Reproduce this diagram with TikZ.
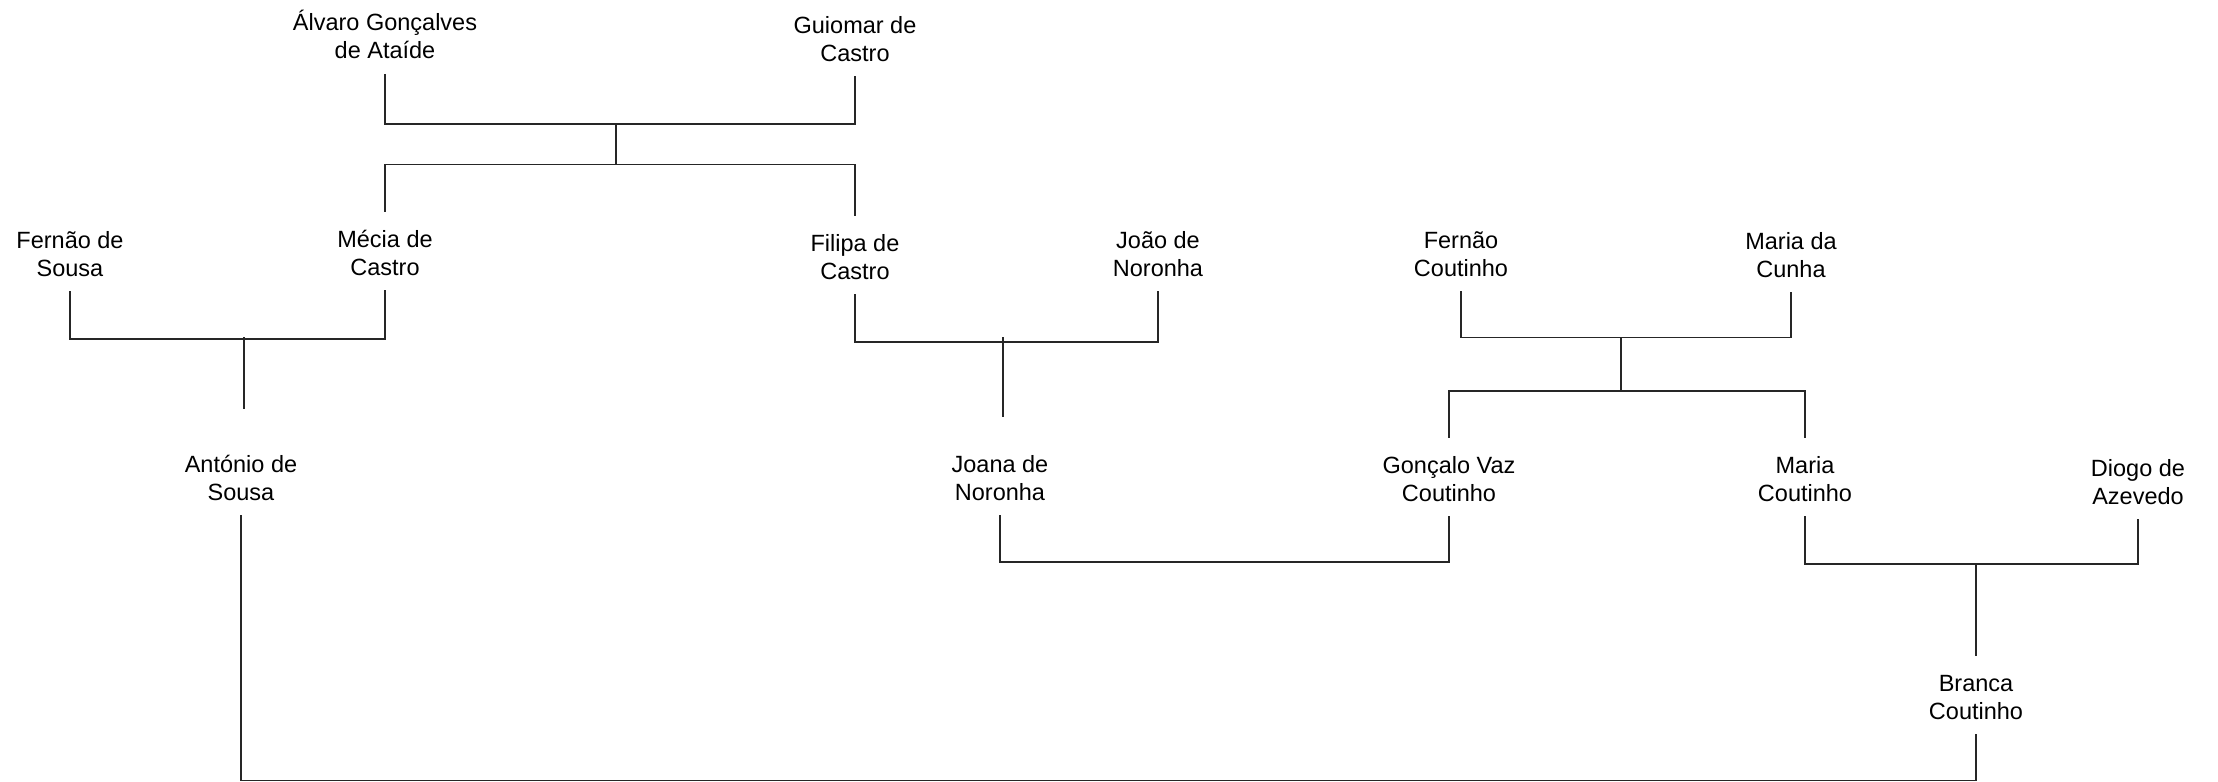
\documentclass[tikz,border=0pt]{standalone}
\usepackage{fontspec}
\setmainfont{Liberation Sans}
\usepackage{tikz}
\usetikzlibrary{positioning,calc}

\newcommand{\pname}[2]{\strut #1\\\strut #2}

\begin{document}
\begin{tikzpicture}[
    x=0.5pt, y=-0.5pt,
    person/.style={align=center, inner sep=3pt, font=\fontsize{11.75}{14}\selectfont},
    link/.style={line width=0.75pt, draw=black!85},
    kid/.style={link, shorten >=5pt}
]
\useasboundingbox (0,0) rectangle (2218,782);

% ============ Row 1 ============
\node[person] (alvaro) at (385, 39) {\pname{Álvaro Gonçalves}{de Ataíde}};
\node[person] (guiomar) at (855, 42) {\pname{Guiomar de}{Castro}};

% ============ Row 2 ============
\node[person] (fernaoS) at (70, 257) {\pname{Fernão de}{Sousa}};
\node[person] (mecia) at (385, 256) {\pname{Mécia de}{Castro}};
\node[person] (filipa) at (855, 260) {\pname{Filipa de}{Castro}};
\node[person] (joao) at (1158, 257) {\pname{João de}{Noronha}};
\node[person] (fernaoC) at (1461, 257) {\pname{Fernão}{Coutinho}};
\node[person] (mariaCu) at (1791, 258) {\pname{Maria da}{Cunha}};

% ============ Row 3 ============
\node[person] (antonio) at (241, 481) {\pname{António de}{Sousa}};
\node[person] (joana) at (1000, 481) {\pname{Joana de}{Noronha}};
\node[person] (goncalo) at (1449, 482) {\pname{Gonçalo Vaz}{Coutinho}};
\node[person] (mariaCo) at (1805, 482) {\pname{Maria}{Coutinho}};
\node[person] (diogo) at (2138, 485) {\pname{Diogo de}{Azevedo}};

% ============ Row 4 ============
\node[person] (branca) at (1976, 700) {\pname{Branca}{Coutinho}};

% Alvaro + Guiomar
\coordinate (m1) at (616, 124);
\coordinate (s1) at (616, 164.5);
\draw[link] (alvaro.south) |- (m1) -| (guiomar.south);
\draw[link] (m1) -- (s1);
\draw[kid] (s1) -| (mecia.north);
\draw[kid] (s1) -| (filipa.north);

% Fernao + Mecia
\coordinate (m2) at (244, 339);
\draw[link] (fernaoS.south) |- (m2) -| (mecia.south);
\draw[link, shorten <=-1pt, shorten >=19pt] (m2) -- (m2 |- antonio.north);

% Filipa + Joao
\coordinate (m3) at (1003, 342);
\draw[link] (filipa.south) |- (m3) -| (joao.south);
\draw[link, shorten <=-2.5pt, shorten >=15pt] (m3) -- (m3 |- joana.north);

% Fernao + Maria
\coordinate (m4) at (1621, 337.5);
\coordinate (s4) at (1621, 391);
\draw[link] (fernaoC.south) |- (m4) -| (mariaCu.south);
\draw[link] (m4) -- (s4);
\draw[kid] (s4) -| (goncalo.north);
\draw[kid] (s4) -| (mariaCo.north);

% Joana + Goncalo
\coordinate (m5) at (1225, 562);
\draw[link] (joana.south) |- (m5) -| (goncalo.south);

% Maria + Diogo
\coordinate (m6) at (1976, 564);
\draw[link] (mariaCo.south) |- (m6) -| (diogo.south);
\draw[kid] (m6) -- (branca.north);

% Antonio + Branca
\coordinate (m7) at (1100, 780.5);
\draw[link] (antonio.south) |- (m7) -| (branca.south);

\end{tikzpicture}
\end{document}
